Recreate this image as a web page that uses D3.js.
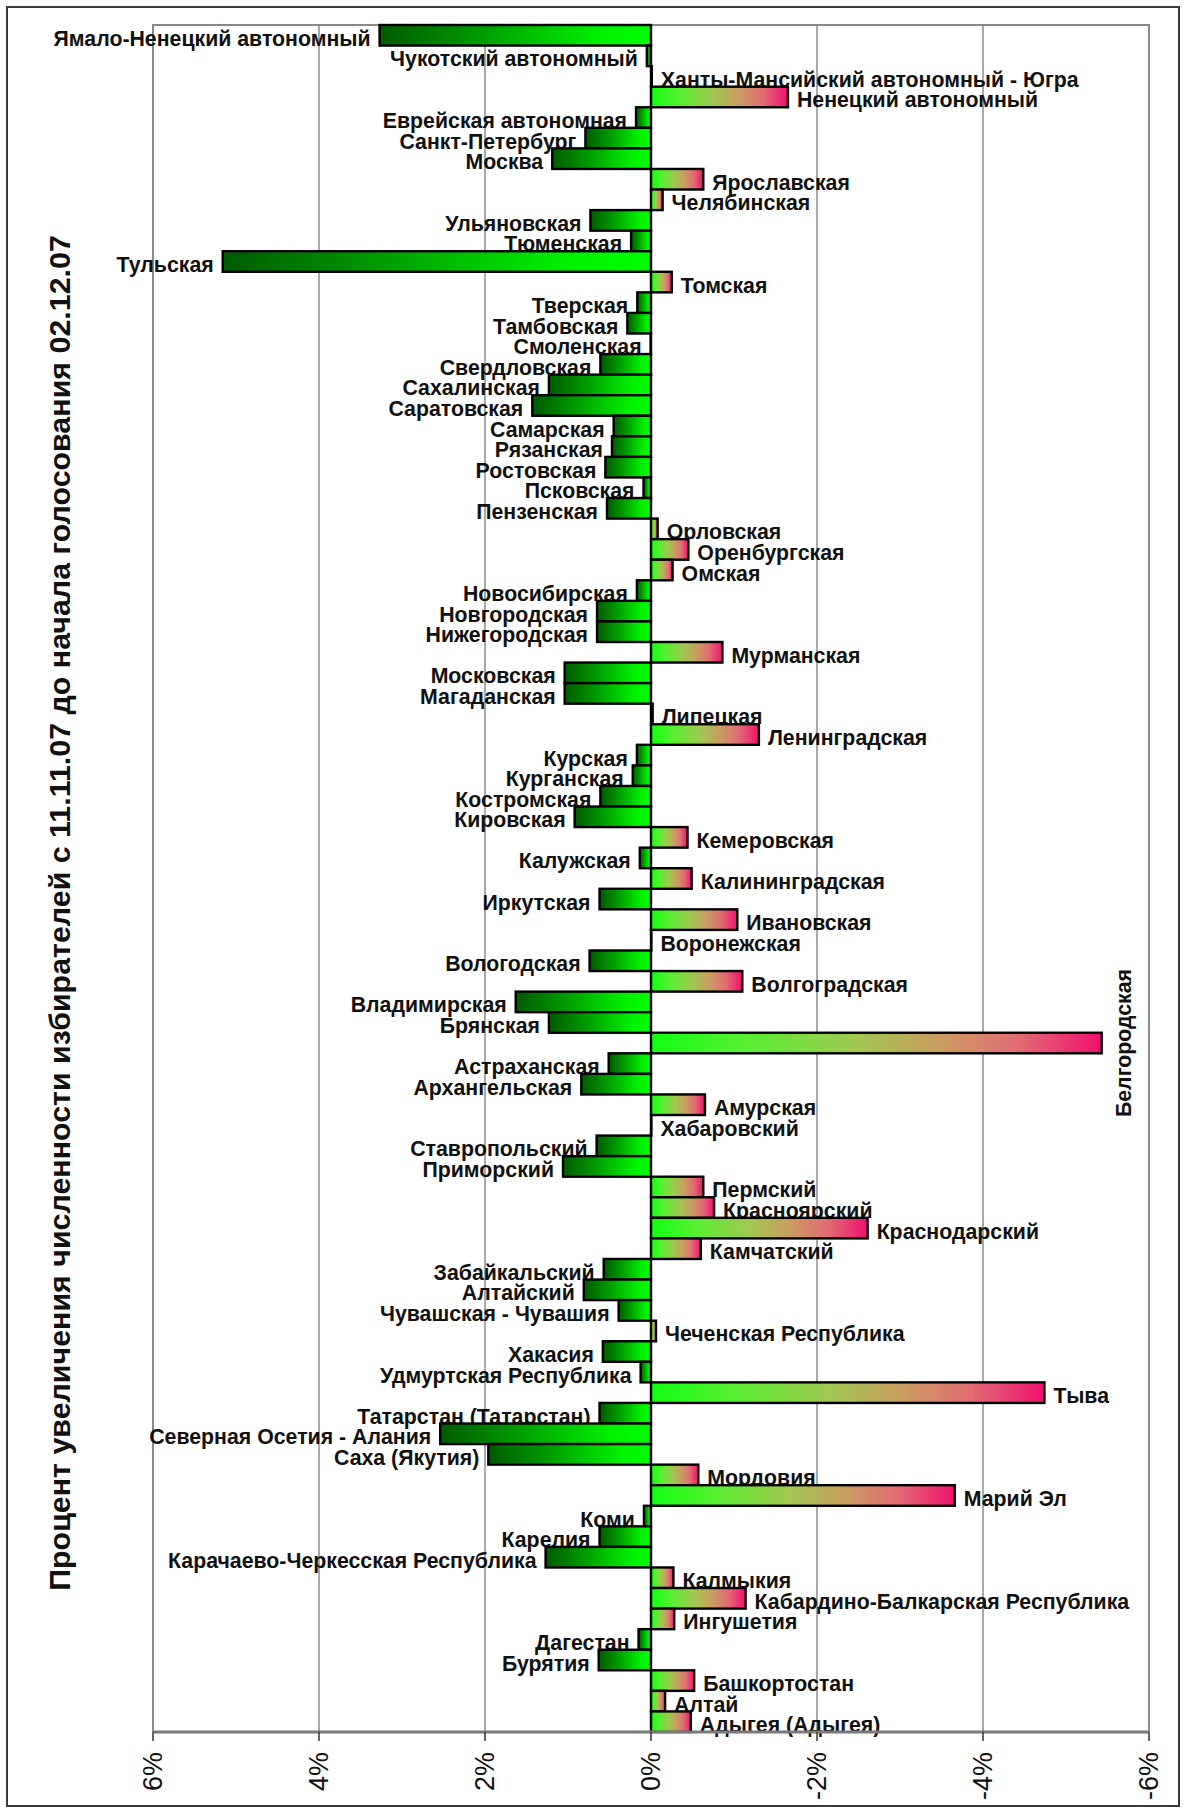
<!DOCTYPE html>
<html><head><meta charset="utf-8">
<script src="https://cdn.jsdelivr.net/npm/d3@7"></script>
<style>
html,body{margin:0;padding:0;background:#fff;}
svg{display:block;}
text{font-family:"Liberation Sans",Arial,sans-serif;}
</style></head>
<body>
<svg id="chart" width="1186" height="1813"></svg>
<script>
const categories = [
"Ямало-Ненецкий автономный","Чукотский автономный","Ханты-Мансийский автономный - Югра","Ненецкий автономный",
"Еврейская автономная","Санкт-Петербург","Москва","Ярославская","Челябинская","Ульяновская","Тюменская","Тульская",
"Томская","Тверская","Тамбовская","Смоленская","Свердловская","Сахалинская","Саратовская","Самарская","Рязанская",
"Ростовская","Псковская","Пензенская","Орловская","Оренбургская","Омская","Новосибирская","Новгородская","Нижегородская",
"Мурманская","Московская","Магаданская","Липецкая","Ленинградская","Курская","Курганская","Костромская","Кировская",
"Кемеровская","Калужская","Калининградская","Иркутская","Ивановская","Воронежская","Вологодская","Волгоградская",
"Владимирская","Брянская","Белгородская","Астраханская","Архангельская","Амурская","Хабаровский","Ставропольский",
"Приморский","Пермский","Красноярский","Краснодарский","Камчатский","Забайкальский","Алтайский","Чувашская - Чувашия",
"Чеченская Республика","Хакасия","Удмуртская Республика","Тыва","Татарстан (Татарстан)","Северная Осетия - Алания",
"Саха (Якутия)","Мордовия","Марий Эл","Коми","Карелия","Карачаево-Черкесская Республика","Калмыкия",
"Кабардино-Балкарская Республика","Ингушетия","Дагестан","Бурятия","Башкортостан","Алтай","Адыгея (Адыгея)"
];
// percent increase of voters (positive = increase, drawn to the left)
const values = [
3.27,0.05,-0.01,-1.65,
0.18,0.79,1.19,-0.63,-0.14,0.73,0.24,5.16,
-0.25,0.165,0.285,0.005,0.61,1.23,1.43,0.45,0.47,
0.55,0.09,0.53,-0.08,-0.45,-0.26,0.17,0.65,0.65,
-0.86,1.04,1.04,-0.02,-1.30,0.17,0.22,0.61,0.92,
-0.44,0.135,-0.49,0.62,-1.04,-0.005,0.74,-1.10,
1.63,1.23,-5.43,0.51,0.84,-0.65,-0.005,0.655,
1.06,-0.63,-0.76,-2.61,-0.60,0.57,0.81,0.39,
-0.06,0.58,0.125,-4.74,0.62,2.54,
1.96,-0.57,-3.66,0.085,0.62,1.27,-0.27,
-1.14,-0.28,0.15,0.63,-0.52,-0.17,-0.48
];
const tickValues = [6,4,2,0,-2,-4,-6];
const tickLabels = ["6%","4%","2%","0%","-2%","-4%","-6%"];
const titleText = "Процент увеличения численности избирателей с 11.11.07 до начала голосования 02.12.07";

const svg = d3.select("#chart");
const W = 1186, H = 1813;
const plot = {left:153, right:1149, top:25, bottom:1732};

const x = d3.scaleLinear().domain([6,-6]).range([plot.left, plot.right]);
const y = d3.scaleBand().domain(categories).range([plot.top, plot.bottom]).padding(0);

// outer border
svg.append("rect").attr("x",7).attr("y",7).attr("width",W-14).attr("height",H-14)
  .attr("fill","#fff").attr("stroke","#3a3a3a").attr("stroke-width",2);

const defs = svg.append("defs");
const gPos = defs.append("linearGradient").attr("id","gPos");
[[0,"#005a00"],[0.35,"#009800"],[0.8,"#00f000"],[1,"#00ff00"]].forEach(s=>
  gPos.append("stop").attr("offset",s[0]).attr("stop-color",s[1]));
const gNeg = defs.append("linearGradient").attr("id","gNeg");
[[0,"#10ff10"],[0.2,"#55f030"],[0.45,"#a0c850"],[0.65,"#cc9a62"],[0.82,"#e26a74"],[1,"#f0106e"]].forEach(s=>
  gNeg.append("stop").attr("offset",s[0]).attr("stop-color",s[1]));

// gridlines
svg.append("g").selectAll("line").data(tickValues.slice(1,-1)).join("line")
  .attr("x1",d=>x(d)).attr("x2",d=>x(d)).attr("y1",plot.top).attr("y2",plot.bottom)
  .attr("stroke","#555").attr("stroke-width",1);

// plot frame (top, left, right)
svg.append("path")
  .attr("d",`M${plot.left},${plot.bottom}V${plot.top}H${plot.right}V${plot.bottom}`)
  .attr("fill","none").attr("stroke","#8a8a8a").attr("stroke-width",2);

// labels (drawn beneath bars)
const data = categories.map((c,i)=>({name:c, v:values[i]}));
const labelG = svg.append("g").attr("font-weight","bold").attr("font-size",21.3).attr("fill","#111");
data.forEach(d=>{
  const cy = y(d.name) + y.bandwidth()/2 + 3.5;
  const end = x(d.v);
  const t = labelG.append("text").text(d.name).attr("dominant-baseline","central");
  if (d.v >= 0) {
    t.attr("x", end - 9).attr("y", cy).attr("text-anchor","end");
  } else {
    t.attr("x", end + 9).attr("y", cy).attr("text-anchor","start");
    const w = t.node().getComputedTextLength();
    if (end + 9 + w > plot.right) {
      t.attr("x",null).attr("y",null).attr("text-anchor","middle")
       .attr("transform",`translate(${plot.right-25},${cy-3.5}) rotate(-90)`);
    }
  }
});

// bars
svg.append("g").selectAll("rect").data(data).join("rect")
  .attr("x",d=>Math.min(x(0),x(d.v)))
  .attr("y",d=>y(d.name))
  .attr("width",d=>Math.max(0.4,Math.abs(x(d.v)-x(0))))
  .attr("height",y.bandwidth())
  .attr("fill",d=>d.v>=0?"url(#gPos)":"url(#gNeg)")
  .attr("stroke","#000").attr("stroke-width",2.4);

// bottom axis
svg.append("line").attr("x1",plot.left).attr("x2",plot.right).attr("y1",plot.bottom).attr("y2",plot.bottom)
  .attr("stroke","#7a7a7a").attr("stroke-width",3);
const axG = svg.append("g");
axG.selectAll("line").data(tickValues).join("line")
  .attr("x1",d=>x(d)).attr("x2",d=>x(d)).attr("y1",plot.bottom).attr("y2",plot.bottom+9)
  .attr("stroke","#333").attr("stroke-width",1.5);
axG.selectAll("text").data(tickValues).join("text")
  .text((d,i)=>tickLabels[i])
  .attr("transform",d=>`translate(${x(d)},${plot.bottom+20}) rotate(-90)`)
  .attr("text-anchor","end").attr("dominant-baseline","central")
  .attr("font-size",27).attr("fill","#111");

// title
svg.append("text").text(titleText)
  .attr("transform",`translate(59,913) rotate(-90)`)
  .attr("text-anchor","middle").attr("dominant-baseline","central")
  .attr("font-weight","bold").attr("font-size",30.4).attr("fill","#111");
</script>
</body></html>
